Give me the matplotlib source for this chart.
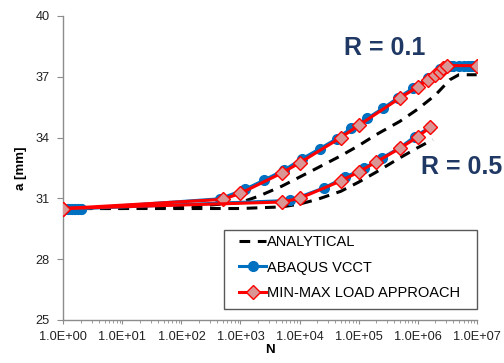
import matplotlib
matplotlib.use("Agg")
import matplotlib.pyplot as plt
from matplotlib.ticker import FixedLocator, LogLocator, NullFormatter
from matplotlib.patches import Rectangle
import numpy as np

plt.rcParams['font.family'] = ['Liberation Sans', 'DejaVu Sans']

# ---------------- data ----------------
# Analytical
ana01_N = [1, 10, 100, 1e3, 2e3, 5e3, 1e4, 2e4, 5e4, 1e5, 2e5, 5e5, 1e6, 2e6, 3.5e6, 5e6, 1e7]
ana01_a = [30.5, 30.5, 30.55, 30.8, 31.1, 31.6, 32.05, 32.5, 33.1, 33.6, 34.15, 34.8, 35.4, 36.1, 36.85, 37.1, 37.1]
ana05_N = [1, 10, 100, 1e3, 5e3, 1e4, 2e4, 5e4, 1e5, 2e5, 5e5, 1e6, 1.8e6]
ana05_a = [30.5, 30.5, 30.5, 30.5, 30.58, 30.72, 30.95, 31.35, 31.8, 32.3, 33.0, 33.5, 33.9]

# ABAQUS VCCT
vcct01_N = [1, 1.2, 1.4, 1.6, 1.8, 2.0, 450, 1200, 2500, 5500, 1.1e4, 2.2e4, 4.3e4, 7.4e4,
            1.4e5, 2.6e5, 4.6e5, 8.5e5, 1.5e6, 2.4e6, 3e6, 3.5e6, 4e6, 5e6, 6e6, 7e6, 8e6, 9e6, 1e7]
vcct01_a = [30.5, 30.5, 30.5, 30.5, 30.5, 30.5, 30.98, 31.45, 31.9, 32.4, 32.95, 33.45, 33.95, 34.45,
            34.95, 35.45, 35.95, 36.45, 36.95, 37.4, 37.55, 37.55, 37.55, 37.55, 37.55, 37.55, 37.55, 37.55, 37.55]
vcct05_N = [1, 1.2, 1.4, 1.6, 1.8, 2.0, 7000, 2.6e4, 6e4, 1.25e5, 2.5e5, 5e5, 9e5, 1.6e6]
vcct05_a = [30.5, 30.5, 30.5, 30.5, 30.5, 30.5, 30.9, 31.52, 32.05, 32.5, 33.0, 33.5, 34.05, 34.5]

# MIN-MAX load approach
mm01_N = [1, 500, 1e3, 5e3, 1e4, 5e4, 1e5, 5e5, 1e6, 1.5e6, 2e6, 2.4e6, 2.7e6, 3.2e6, 1e7]
mm01_a = [30.5, 30.95, 31.25, 32.25, 32.75, 34.0, 34.6, 35.95, 36.5, 36.85, 37.07, 37.25, 37.42, 37.55, 37.55]
mm05_N = [1, 5e3, 1e4, 5e4, 1e5, 2e5, 5e5, 1e6, 1.6e6]
mm05_a = [30.5, 30.82, 31.0, 31.86, 32.3, 32.8, 33.47, 34.03, 34.5]

yticks = [25, 28, 31, 34, 37, 40]
xticks = [1, 1e1, 1e2, 1e3, 1e4, 1e5, 1e6, 1e7]
xticklabels = ["1.0E+00", "1.0E+01", "1.0E+02", "1.0E+03", "1.0E+04", "1.0E+05", "1.0E+06", "1.0E+07"]

# ---------------- figure ----------------
fig = plt.figure(figsize=(5.04, 3.63), dpi=100)
ax = fig.add_axes([0.1257, 0.1185, 0.8201, 0.8375])

blue = '#0070C0'
red = '#FF0000'
pink = '#D99694'
navy = '#1F3864'

ax.plot(ana01_N, ana01_a, color='black', lw=2.2, ls=(0, (3.5, 2.5)), label='ANALYTICAL', zorder=2)
ax.plot(ana05_N, ana05_a, color='black', lw=2.2, ls=(0, (3.5, 2.5)), zorder=2)

ax.plot(vcct01_N, vcct01_a, color=blue, lw=2.2, marker='o', ms=7, mec=blue, mfc=blue,
        label='ABAQUS VCCT', zorder=3)
ax.plot(vcct05_N, vcct05_a, color=blue, lw=2.2, marker='o', ms=7, mec=blue, mfc=blue, zorder=3)

ax.plot(mm01_N, mm01_a, color=red, lw=2.2, marker='D', ms=7, mec=red, mfc=pink, mew=1.0,
        label='MIN-MAX LOAD APPROACH', zorder=4)
ax.plot(mm05_N, mm05_a, color=red, lw=2.2, marker='D', ms=7, mec=red, mfc=pink, mew=1.0, zorder=4)

ax.set_xscale('log')
ax.set_xlim(1, 1e7)
ax.set_ylim(25, 40)
ax.xaxis.set_major_locator(FixedLocator(xticks))
ax.set_xticklabels(xticklabels)
ax.xaxis.set_minor_locator(LogLocator(base=10, subs=np.arange(2, 10), numticks=20))
ax.xaxis.set_minor_formatter(NullFormatter())
ax.set_yticks(yticks)

for s in ['top', 'right']:
    ax.spines[s].set_visible(False)
for s in ['left', 'bottom']:
    ax.spines[s].set_color('#8C8C8C')
    ax.spines[s].set_linewidth(1.0)

ax.tick_params(axis='both', which='major', direction='out', color='#8C8C8C', labelsize=9.2,
               labelcolor='#222222')
ax.tick_params(axis='y', which='major', length=4, pad=6)
ax.tick_params(axis='x', which='major', length=3, pad=5)
ax.tick_params(axis='x', which='minor', direction='out', length=2, color='#8C8C8C')

ax.set_xlabel('N', fontsize=9.5, fontweight='bold', labelpad=1)
ax.set_ylabel('a [mm]', fontsize=9.5, fontweight='bold', labelpad=6)

ax.text(5.66e4, 38.42, 'R = 0.1', fontsize=18, fontweight='bold', color=navy,
        ha='left', va='center', clip_on=False)
ax.text(1.13e6, 32.57, 'R = 0.5', fontsize=18, fontweight='bold', color=navy,
        ha='left', va='center', clip_on=False)

# legend frame drawn separately
frame = Rectangle((0.3887, 0.0352), 0.613, 0.2608, transform=ax.transAxes, fill=True,
                  facecolor='white', edgecolor='#595959', lw=1.0, zorder=5, clip_on=False)
ax.add_patch(frame)
leg = ax.legend(loc='upper left', bbox_to_anchor=(0.425, 0.280), fontsize=10.5,
                frameon=False, handlelength=1.85, handletextpad=0.1, borderpad=0,
                labelspacing=0.8, borderaxespad=0)
leg.set_zorder(6)

fig.savefig('out.png', dpi=100)
